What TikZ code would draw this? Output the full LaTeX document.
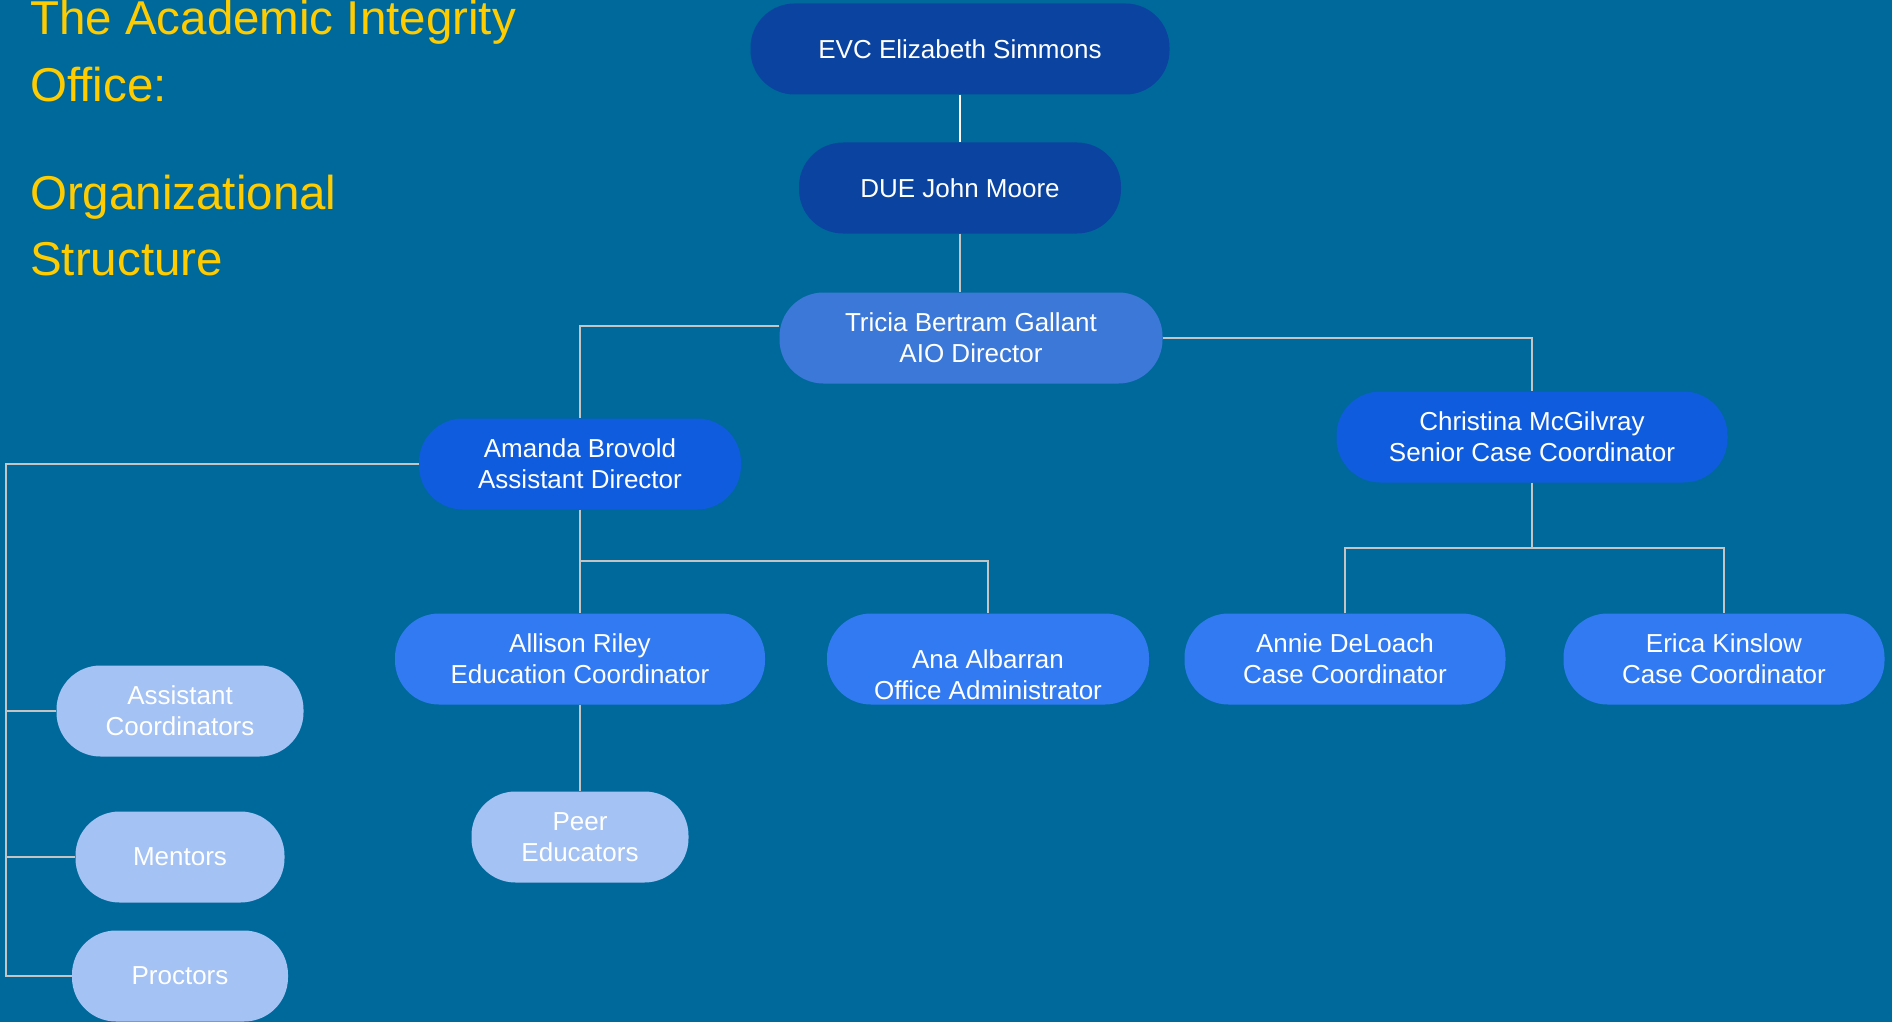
\documentclass[tikz,border=0pt]{standalone}
\usepackage{fontspec}
\setmainfont{Liberation Sans}
\usetikzlibrary{positioning}
\definecolor{bgblue}{HTML}{00699B}
\definecolor{titleyellow}{HTML}{FFCC00}
\definecolor{topblue}{HTML}{0B44A0}
\definecolor{aioblue}{HTML}{3C78D8}
\definecolor{leadblue}{HTML}{105CDE}
\definecolor{staffblue}{HTML}{327AF2}
\definecolor{helperblue}{HTML}{A4C2F4}
\definecolor{linegray}{HTML}{C4C4C4}
\newcommand*{\boxfont}{\fontsize{26}{31}\selectfont}
\newcommand*{\titlefont}{\fontsize{47.5}{58}\selectfont}
\tikzset{
  pill/.style={rectangle, rounded corners=44pt, minimum height=91pt,
    inner sep=0pt, text=white, align=center, font=\boxfont},
  topbox/.style={pill, fill=topblue},
  aiobox/.style={pill, fill=aioblue},
  leadbox/.style={pill, fill=leadblue},
  staffbox/.style={pill, fill=staffblue},
  helperbox/.style={pill, fill=helperblue},
  link/.style={draw=linegray, line width=2pt},
  headline/.style={anchor=base west, inner sep=0pt, text=titleyellow, font=\titlefont}
}

\begin{document}
\begin{tikzpicture}[x=1pt,y=-1pt]
\fill[bgblue] (0,0) rectangle (1892,1022);
\useasboundingbox (0,0) rectangle (1892,1022);
% title
\node[headline] (t1) at (30,35) {The Academic Integrity};
\node[headline] (t2) at (30,102) {Office:};
\node[headline] (t3) at (30,209) {Organizational};
\node[headline] (t4) at (30,275) {Structure};
% people
\node[topbox, minimum width=419pt] (evc) at (960,49) {EVC Elizabeth Simmons};
\node[topbox, minimum width=322pt] (due) at (960,188) {DUE John Moore};
\node[aiobox, minimum width=383pt] (tricia) at (971,338) {Tricia Bertram Gallant\\AIO Director};
\node[leadbox, minimum width=322pt] (amanda) at (580,464) {Amanda Brovold\\Assistant Director};
\node[leadbox, minimum width=391pt] (christina) at (1532,437) {Christina McGilvray\\Senior Case Coordinator};
\node[staffbox, minimum width=370pt] (allison) at (580,659) {Allison Riley\\Education Coordinator};
\node[staffbox, minimum width=322pt] (ana) at (988,659) {};
\node[pill, text=white] (anatxt) at (988,675) {Ana Albarran\\Office Administrator};
\node[staffbox, minimum width=321pt] (annie) at (1345,659) {Annie DeLoach\\Case Coordinator};
\node[staffbox, minimum width=321pt] (erica) at (1724,659) {Erica Kinslow\\Case Coordinator};
\node[helperbox, minimum width=217pt] (peer) at (580,837) {Peer\\Educators};
\node[helperbox, minimum width=247pt] (asst) at (180,711) {Assistant\\Coordinators};
\node[helperbox, minimum width=209pt] (mentors) at (180,857) {Mentors};
\node[helperbox, minimum width=216pt] (proctors) at (180,976) {Proctors};
% lines
\coordinate (rail) at (6,0);
\coordinate (asplit) at (580,561);
\coordinate (csplit) at (1532,548);
\draw[link, draw=white] (evc) -- (due);
\draw[link] (due) -- (due |- tricia.north);
\draw[link] ([yshift=12pt]tricia.west) -| (amanda.north);
\draw[link] (tricia.east) -| (christina.north);
\draw[link] (amanda.west) -- (amanda.west -| rail) |- (proctors.west);
\draw[link] (asst.west) -- (asst.west -| rail);
\draw[link] (mentors.west) -- (mentors.west -| rail);
\draw[link] (amanda) -- (allison);
\draw[link] (asplit) -| (ana.north);
\draw[link] (allison) -- (peer);
\draw[link] (christina) -- (csplit);
\draw[link] (annie.north) |- (csplit) -| (erica.north);
\end{tikzpicture}
\end{document}
